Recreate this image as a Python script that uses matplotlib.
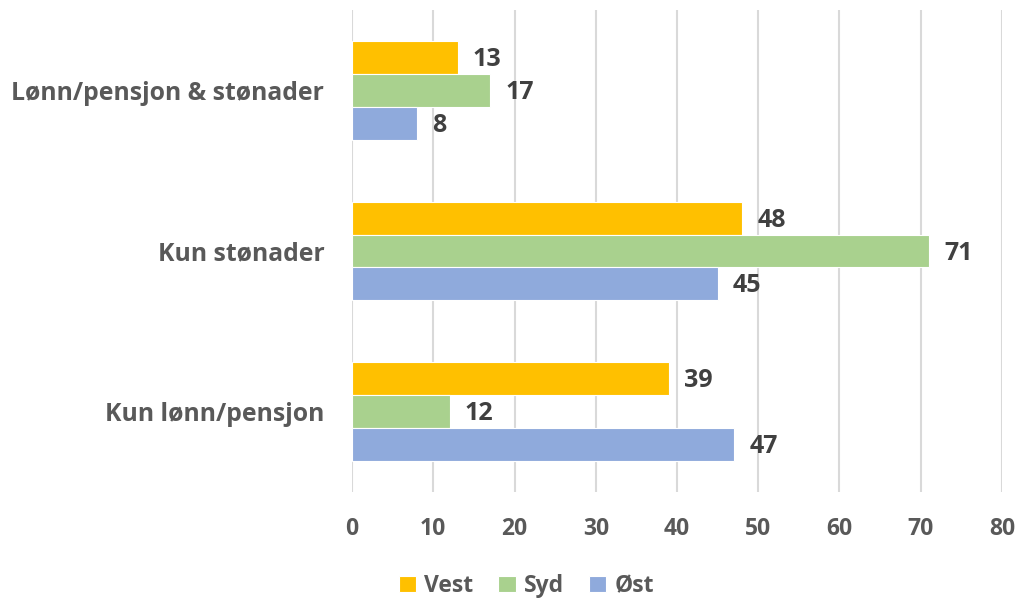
import matplotlib
matplotlib.use('Agg')
import matplotlib.pyplot as plt
import numpy as np

# Data
categories = ['Kun lønn/pensjon', 'Kun stønader', 'Lønn/pensjon & stønader']
seriesNames = ['Vest', 'Syd', 'Øst']
vest = [39, 48, 13]
syd = [12, 71, 17]
ost = [47, 45, 8]
xTicks = [0, 10, 20, 30, 40, 50, 60, 70, 80]

colors = ['#FFC000', '#A9D18E', '#8FAADC']
textGray = '#595959'
labelDark = '#404040'

plt.rcParams['font.family'] = ['Open Sans', 'DejaVu Sans']
plt.rcParams['font.weight'] = 'bold'

fig = plt.figure(figsize=(10.16, 6.01), dpi=100)
ax = fig.add_axes([0.3465, 0.1814, 0.6397, 0.802])

barH = 0.205
y = np.arange(len(categories))
offsets = [barH, 0, -barH]

for values, name, color, off in zip([vest, syd, ost], seriesNames, colors, offsets):
    bars = ax.barh(y + off, values, height=barH, color=color, edgecolor='white',
                   linewidth=0.8, label=name, zorder=3)
    for rect, v in zip(bars, values):
        ax.annotate(str(v), (rect.get_width(), rect.get_y() + rect.get_height() / 2),
                    xytext=(11, -1.5), textcoords='offset points', ha='left', va='center',
                    fontsize=18, fontweight='bold', color=labelDark)

ax.set_xlim(0, 80)
ax.set_ylim(-0.5, 2.5)
ax.set_xticks(xTicks)
ax.set_yticks(y)
ax.set_yticklabels(categories)
ax.grid(axis='x', color='#D9D9D9', linewidth=1.5, zorder=0)
ax.tick_params(axis='both', length=0, colors=textGray)
ax.tick_params(axis='x', labelsize=16.5, pad=18)
ax.tick_params(axis='y', labelsize=17.8, pad=20)
for lab in ax.get_xticklabels() + ax.get_yticklabels():
    lab.set_fontweight('bold')
for s in ax.spines.values():
    s.set_visible(False)

leg = fig.legend(loc='center', bbox_to_anchor=(0.518, 0.025), ncol=3, frameon=False,
                 fontsize=16.5, handlelength=0.75, handleheight=0.75, handletextpad=0.35,
                 columnspacing=1.1)
for t in leg.get_texts():
    t.set_color(textGray)
    t.set_fontweight('bold')

fig.savefig('out.png', dpi=100)
